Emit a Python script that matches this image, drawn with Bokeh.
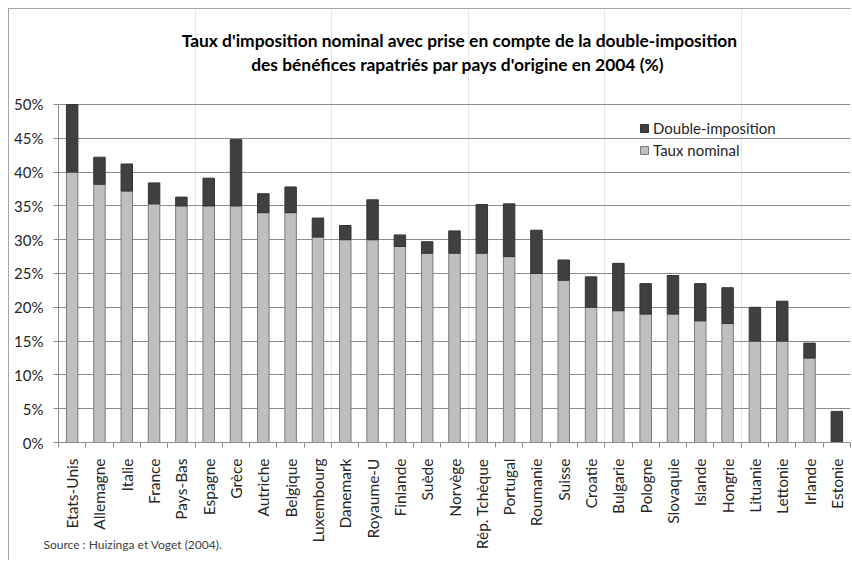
from bokeh.plotting import figure
from bokeh.models import (Range1d, LinearAxis, FixedTicker, Title,
                          PrintfTickFormatter, Legend, LegendItem, Label,
                          ColumnDataSource, Grid)
from bokeh.embed import file_html
from bokeh.resources import INLINE
import math

countries = ["Etats-Unis", "Allemagne", "Italie", "France", "Pays-Bas", "Espagne", "Grèce",
             "Autriche", "Belgique", "Luxembourg", "Danemark", "Royaume-U", "Finlande", "Suède",
             "Norvège", "Rép. Tchèque", "Portugal", "Roumanie", "Suisse", "Croatie", "Bulgarie",
             "Pologne", "Slovaquie", "Islande", "Hongrie", "Lituanie", "Lettonie", "Irlande",
             "Estonie"]
taux_nominal = [40.0, 38.2, 37.2, 35.3, 35.0, 35.0, 35.0, 34.0, 34.0, 30.4, 30.0, 30.0, 29.0, 28.0,
                28.0, 28.0, 27.5, 25.0, 24.0, 20.0, 19.5, 19.0, 19.0, 18.0, 17.6, 15.0, 15.0, 12.5,
                0.0]
double_imposition = [10.0, 4.0, 4.0, 3.1, 1.3, 4.1, 9.8, 2.8, 3.8, 2.8, 2.1, 5.9, 1.7, 1.7,
                     3.3, 7.2, 7.8, 6.4, 3.0, 4.5, 7.0, 4.5, 5.7, 5.5, 5.3, 5.0, 5.9, 2.2,
                     4.6]
y_ticks = [0, 5, 10, 15, 20, 25, 30, 35, 40, 45, 50]
series_labels = ["Taux nominal", "Double-imposition"]
title_lines = ["Taux d'imposition nominal avec prise en compte de la double-imposition",
               "des bénéfices rapatriés par pays d'origine en 2004 (%)"]
source_text = "Source : Huizinga et Voget (2004)."

FONT = "Lato"
TXT = "#262626"
GRID = "#8c8c8c"

n = len(countries)
centers = [i + 0.5 for i in range(n)]
src = ColumnDataSource(data=dict(country=countries, xc=centers, nominal=taux_nominal,
                                 double=double_imposition))

# frame spans the whole top area, so that the title lines can live inside it
p = figure(x_range=Range1d(0, n), y_range=Range1d(0, 64.05),
           width=843, height=552, output_backend="svg", toolbar_location=None,
           x_axis_location=None, y_axis_location=None,
           min_border_left=49, min_border_right=2, min_border_top=0, min_border_bottom=119)
p.outline_line_color = None
p.background_fill_color = "white"
p.border_fill_color = "white"
p.styles = {"margin-left": "8px", "margin-top": "8px",
            "border-left": "1px solid #a6a6a6", "border-top": "1px solid #a6a6a6"}

# y axis
yaxis = LinearAxis(ticker=FixedTicker(ticks=y_ticks), formatter=PrintfTickFormatter(format="%d%%"),
                   bounds=(y_ticks[0], y_ticks[-1]),
                   axis_line_color=GRID, major_tick_line_color=GRID, major_tick_out=5, major_tick_in=0,
                   minor_tick_line_color=None, major_label_standoff=10,
                   major_label_text_font=FONT, major_label_text_font_size="15px",
                   major_label_text_color=TXT)
p.add_layout(yaxis, "left")
p.add_layout(Grid(dimension=1, ticker=FixedTicker(ticks=y_ticks), grid_line_color=GRID))

# x boundary ticks axis (closest to frame)
tick_axis = LinearAxis(ticker=FixedTicker(ticks=list(range(n + 1))),
                       axis_line_color=GRID, major_tick_line_color=GRID, major_tick_out=5,
                       major_tick_in=0, minor_tick_line_color=None, major_label_standoff=0,
                       major_label_text_font_size="0px", major_label_text_color=None)
p.add_layout(tick_axis, "below")

xaxis = LinearAxis(ticker=FixedTicker(ticks=centers),
                   major_label_overrides={c: name for c, name in zip(centers, countries)},
                   axis_line_color=None, major_tick_line_color=None, major_tick_out=0,
                   minor_tick_line_color=None, major_label_orientation=math.pi / 2,
                   major_label_standoff=11, major_label_text_font=FONT,
                   major_label_text_font_size="15.5px", major_label_text_color=TXT)
p.add_layout(xaxis, "below")

p.add_layout(Title(text=source_text, align="left", vertical_align="top", offset=-15, standoff=-32,
                   text_font=FONT, text_font_style="normal", text_font_size="12px",
                   text_color="#404040"), "below")

r = p.vbar_stack(["nominal", "double"], x="xc", width=0.42, source=src,
                 fill_color=["#BFBFBF", "#404040"], line_color=["#7a7a7a", "#333333"], line_width=1)

legend = Legend(items=[LegendItem(label=series_labels[1], renderers=[r[1]]),
                       LegendItem(label=series_labels[0], renderers=[r[0]])],
                location=(581, 282), border_line_color=None, background_fill_alpha=0,
                padding=0, margin=0, spacing=2, glyph_width=10, glyph_height=10,
                label_standoff=4, label_height=20, label_text_font=FONT,
                label_text_font_size="15px", label_text_color=TXT)
p.add_layout(legend)

# title lines (inside the frame, above the 50% line)
p.add_layout(Label(x=14.68, y=59.47, text=title_lines[0], text_align="center", text_baseline="middle",
                   text_font=FONT, text_font_style="bold", text_font_size="17.4px", text_color="black"))
p.add_layout(Label(x=14.61, y=55.87, text=title_lines[1], text_align="center", text_baseline="middle",
                   text_font=FONT, text_font_style="bold", text_font_size="17.4px", text_color="black"))

open("out.html", "w").write(file_html(p, INLINE))
